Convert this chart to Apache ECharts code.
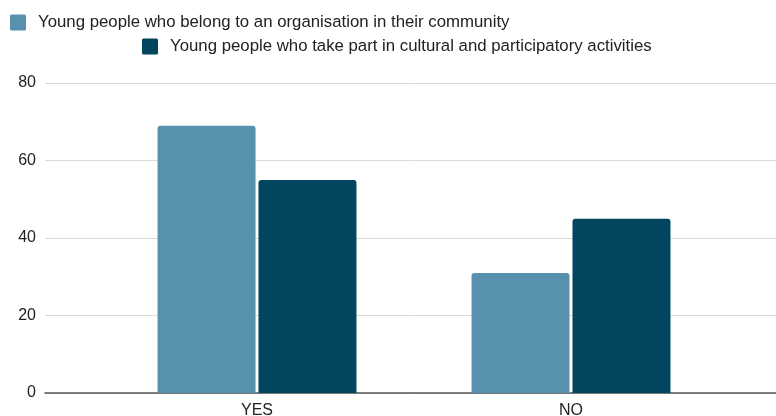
<!DOCTYPE html>
<html>
<head>
<meta charset="utf-8">
<script src="https://cdn.jsdelivr.net/npm/echarts@6/dist/echarts.min.js"></script>
<style>
  html, body { margin: 0; padding: 0; background: #fff; }
  #chart { width: 776px; height: 416px; }
</style>
</head>
<body>
<div id="chart"></div>
<script>
// Survey answers (percent of young people)
const categories = ['YES', 'NO'];
const belongToOrganisation = [69, 31];
const takePartInActivities = [55, 45];
const seriesNames = [
  'Young people who belong to an organisation in their community',
  'Young people who take part in cultural and participatory activities'
];
const yTicks = { min: 0, max: 80, interval: 20 };

const colorLight = '#5891ae';
const colorDark = '#01455f';
const font = 'Liberation Sans, Arial, sans-serif';
// square legend swatch with slightly softened corners
const swatch = 'path://M1.5,0 H14.5 Q16,0 16,1.5 V14.5 Q16,16 14.5,16 H1.5 Q0,16 0,14.5 V1.5 Q0,0 1.5,0 Z';

const legendText = { fontSize: 16.8, color: '#222', fontFamily: font, padding: [0, 0, 0, 7] };

const chart = echarts.init(document.getElementById('chart'));
chart.setOption({
  animation: false,
  textStyle: { fontFamily: font },
  legend: [
    {
      data: [seriesNames[0]],
      left: 10, top: 14, padding: 0,
      itemWidth: 16, itemHeight: 16,
      icon: swatch,
      textStyle: legendText
    },
    {
      data: [seriesNames[1]],
      left: 142, top: 38, padding: 0,
      itemWidth: 16, itemHeight: 16,
      icon: swatch,
      textStyle: legendText
    }
  ],
  grid: [
    // background grid: gridlines and baseline across the full width
    { left: 45, right: 0, top: 83, bottom: 23, outerBoundsMode: 'none' },
    // plotting grid for the bars
    { left: 100, right: 48, top: 83, bottom: 23, outerBoundsMode: 'none' }
  ],
  xAxis: [
    {
      gridIndex: 0, type: 'category', data: categories,
      axisLine: { show: true, lineStyle: { color: '#555', width: 1.5 } },
      axisTick: { show: false }, axisLabel: { show: false }
    },
    {
      gridIndex: 1, type: 'category', data: categories,
      axisLine: { show: false }, axisTick: { show: false },
      axisLabel: { fontSize: 16, color: '#222', margin: 10, fontFamily: font }
    }
  ],
  yAxis: [
    {
      gridIndex: 0, type: 'value', min: yTicks.min, max: yTicks.max, interval: yTicks.interval,
      axisLine: { show: false }, axisTick: { show: false },
      axisLabel: { fontSize: 16, color: '#222', margin: 9, fontFamily: font },
      splitLine: { lineStyle: { color: '#d9d9d9', width: 1 } }
    },
    {
      gridIndex: 1, type: 'value', min: yTicks.min, max: yTicks.max, interval: yTicks.interval,
      show: false, splitLine: { show: false }
    }
  ],
  series: [
    {
      name: seriesNames[0], type: 'bar', xAxisIndex: 1, yAxisIndex: 1,
      data: belongToOrganisation,
      barWidth: 98, barGap: '3%',
      itemStyle: { color: colorLight, borderRadius: [3, 3, 0, 0] }
    },
    {
      name: seriesNames[1], type: 'bar', xAxisIndex: 1, yAxisIndex: 1,
      data: takePartInActivities,
      barWidth: 98, barGap: '3%',
      itemStyle: { color: colorDark, borderRadius: [3, 3, 0, 0] }
    }
  ]
});
</script>
</body>
</html>
